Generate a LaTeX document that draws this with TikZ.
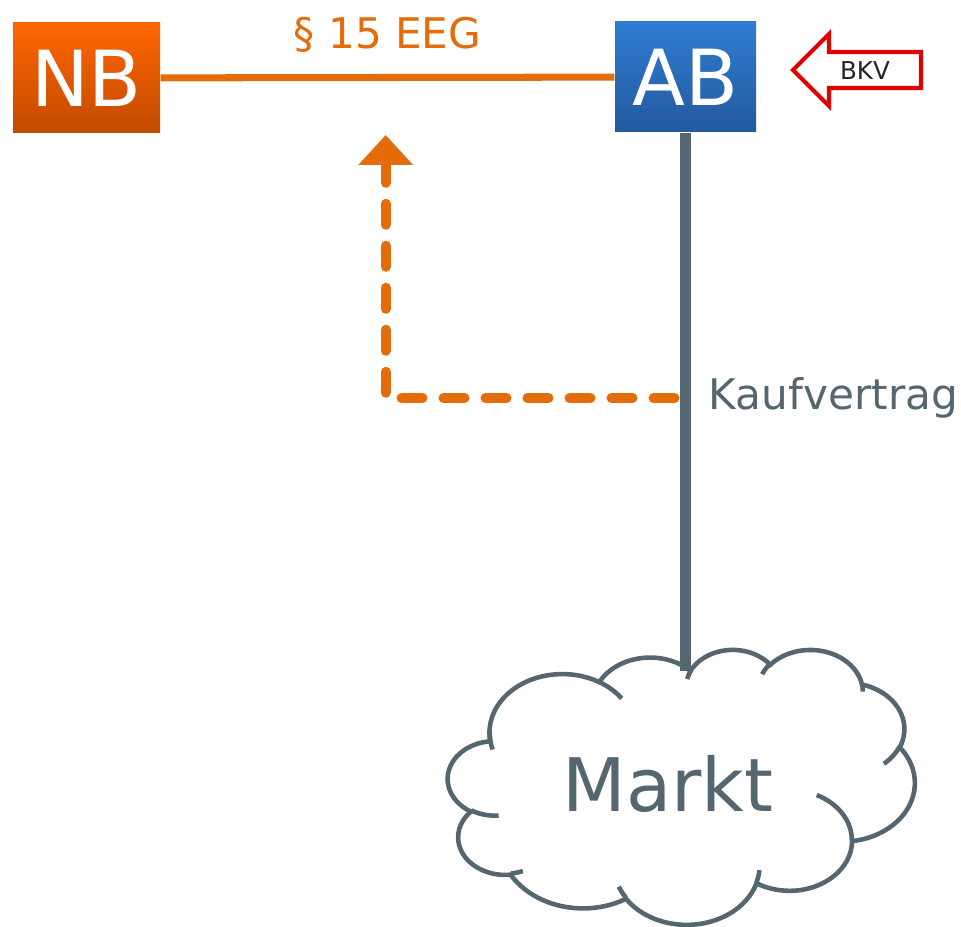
\documentclass[tikz,border=0pt]{standalone}
\usepackage{fontspec}
\setmainfont{DejaVu Sans}
\usetikzlibrary{positioning,arrows.meta}

\definecolor{eegorange}{RGB}{228,108,10}
\definecolor{nbhell}{RGB}{255,102,0}
\definecolor{nbdunkel}{RGB}{194,74,0}
\definecolor{abhell}{RGB}{47,124,208}
\definecolor{abdunkel}{RGB}{36,90,158}
\definecolor{grau}{RGB}{84,102,112}
\definecolor{bkvrot}{RGB}{224,0,0}

\begin{document}
\begin{tikzpicture}[>={Triangle[width=0.53cm,length=0.3cm]},
    box/.style={minimum height=1.1cm,inner sep=0pt,text=white,font=\fontsize{22}{26}\selectfont},
    wolke/.style={draw=grau,line width=1.3pt},
    schrift/.style={font=\fontsize{12}{14}\selectfont},
    declare function={wp(\a,\w,\h)=atan2(\w*sin(\a),\h*cos(\a))+360*round((\a-atan2(\w*sin(\a),\h*cos(\a)))/360);},
    wb/.style n args={4}{insert path={arc[start angle={wp(#1,#3,#4)},end angle={wp(#1+#2,#3,#4)},x radius=#3,y radius=#4]}}]
    \useasboundingbox(0,0)rectangle(9.61,9.26);
    % Akteure
    \node[box,minimum width=1.47cm,top color=nbhell,bottom color=nbdunkel](nb)at(0.865,8.48){NB};
    \node[box,minimum width=1.41cm,top color=abhell,bottom color=abdunkel](ab)at(6.855,8.49){AB};
    \draw[eegorange,line width=2pt](nb)--(ab)node[midway,above=0.1cm,schrift,text=eegorange](eeg){§ 15 EEG};
    % BKV-Pfeil
    \draw[bkvrot,line width=1.2pt,fill=white,line join=miter](9.21,8.74)--(8.29,8.74)--(8.29,8.92)--(7.93,8.56)--(8.29,8.20)--(8.29,8.38)--(9.21,8.38)--cycle;
    \node[font=\fontsize{7}{8}\selectfont,text=black!85](bkv)at(8.65,8.55){BKV};
    % Wolke
    \begin{scope}[shift={(4.48,2.77)},x=0.01081cm,y=-0.00637cm]
        \draw[wolke,fill=white](39.00,143.70)
            [wb={-190.4875}{123.7805}{67.53}{91.90}]
            [wb={-144.1024}{89.9452}{53.33}{72.67}]coordinate(kerbe)
            [wb={-145.8079}{99.7230}{43.65}{59.45}]
            [wb={-130.9861}{117.2417}{48.57}{65.95}]
            [wb={-78.7089}{109.0269}{53.33}{72.73}]
            [wb={-46.2673}{130.2690}{67.75}{92.20}]
            [wb={0.6250}{114.0333}{57.85}{78.67}]
            [wb={22.4516}{115.1726}{67.52}{92.15}]
            [wb={66.2426}{75.7110}{77.20}{105.43}]
            [wb={-274.9421}{146.7356}{43.60}{59.18}]
            [wb={-246.8285}{152.5189}{43.45}{59.45}]
            --cycle;
        \draw[wolke](46.93,261.77)[wb={86.7420}{26.4295}{43.45}{59.45}]
            (69.28,348.99)[wb={73.6105}{11.4475}{43.60}{59.18}]
            (164.78,390.90)[wb={137.6242}{14.0811}{67.52}{92.15}]
            (288.27,347.51)[wb={6.4533}{15.9984}{67.52}{92.15}]
            (341.29,229.54)[wb={-70.2924}{70.9174}{57.85}{78.67}]
            (417.98,153.54)[wb={30.3180}{27.7515}{53.33}{72.73}]
            (383.24,54.26)[wb={-13.7443}{14.8589}{48.57}{65.95}]
            (290.78,39.52)[wb={-149.1815}{18.1954}{48.57}{65.95}]
            (221.41,47.20)[wb={-163.4943}{17.6864}{43.65}{59.45}]
            (140.00,51.92)[wb={-66.7070}{22.4821}{67.53}{91.90}]
            (41.27,157.89)[wb={158.7811}{23.0708}{67.53}{91.90}];
    \end{scope}
    \node[font=\fontsize{21}{25}\selectfont,text=grau](markt)at(6.68,1.42){Markt};
    % Kaufvertrag
    \draw[grau,line width=3.1pt](ab.south)--(ab.south|-kerbe);
    \coordinate(kv)at(6.855,5.28);
    \coordinate(pfeil)at(3.857,7.91);
    \node[right=0.11cm of kv,schrift,text=grau](kauf){Kaufvertrag};
    \draw[eegorange,line width=2.85pt,dash pattern=on 0.21cm off 0.21cm,line cap=round,->]([xshift=-0.11cm]kv)-|(pfeil);
\end{tikzpicture}
\end{document}
